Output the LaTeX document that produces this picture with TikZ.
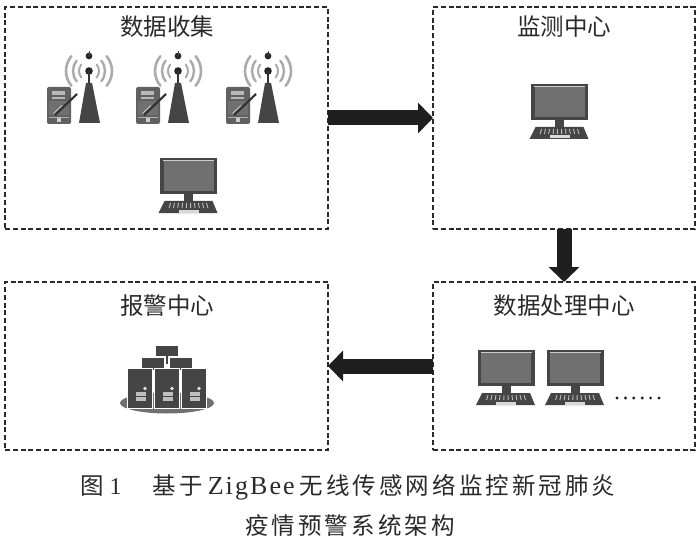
\documentclass[tikz,border=0pt]{standalone}
\usepackage{fontspec}
\usetikzlibrary{arrows.meta}
\newfontfamily\cjk{Noto Sans CJK SC}
\newfontfamily\capcjk[LetterSpace=13]{Noto Sans CJK SC}
\newfontfamily\capla[LetterSpace=8]{Liberation Serif}
\definecolor{ink}{HTML}{2A2A2A}
\definecolor{icon}{HTML}{454545}
\definecolor{mid}{HTML}{707070}
\definecolor{wave}{HTML}{ABABAB}
\tikzset{
  x=1pt,y=-1pt,
  panel/.style={draw=ink,dashed,line width=1.2pt,dash pattern=on 5pt off 2.8pt,inner sep=0,outer sep=0,anchor=north west},
  title/.style={font=\cjk\fontsize{23.5}{26}\selectfont,text=ink,inner sep=0},
  flow/.style={draw=black!88,line width=15pt,-{Triangle[length=15pt,width=30pt]}},
  computer/.pic={
    \fill[icon] (-28.5,0) rectangle (28.5,36);
    \fill[mid] (-25,3) rectangle (25,33);
    \draw[white!80!black,line width=.8pt] (-25.5,2.5) -- (25.5,2.5);
    \fill[icon] (-4.5,36) rectangle (4.5,43);
    \fill[icon] (-24,43) -- (24,43) -- (29,55) -- (-30,55) -- cycle;
    \foreach \k in {-18,-14,...,18}{\draw[white!75!black,line width=.9pt] (\k,45) -- ({\k*1.08},50);}
    \fill[white!85!black] (-10,51.5) rectangle (10,54.5);
  },
  tower/.pic={
    \foreach \r/\w in {10/2,16/2.4,23/2.6}{
      \draw[wave,line width=\w pt,line cap=round] (-40:\r) arc[start angle=-40,end angle=40,radius=\r];
      \draw[wave,line width=\w pt,line cap=round] (140:\r) arc[start angle=140,end angle=220,radius=\r];
    }
    \fill[icon!60!black] (0,-15) circle[radius=3.4];
    \draw[icon,line width=.8pt] (0,-19.5) -- (0,-15);
    \fill[black!85] (0,0) circle[radius=3.8];
    \draw[black!80,line width=2.4pt] (0,0) -- (0,13);
    \fill[icon] (-3,12) -- (3,12) -- (11,52) -- (-10,52) -- cycle;
  },
  handheld/.pic={
    \fill[icon!85!white,rounded corners=2pt] (0,0) rectangle (24,37);
    \fill[white!72!black] (5,4.5) rectangle (18,8.5);
    \fill[white!72!black] (5,10) rectangle (18,12.5);
    \fill[mid] (2,14) rectangle (22,28);
    \draw[black!80,line width=2.2pt] (8,28) -- (30,7);
    \draw[white!85!black,line width=.7pt] (6.5,26.5) -- (15,18.5);
    \draw[white!70!black,line width=.7pt] (2,30) -- (22,30);
    \fill[white!80!black] (10,31.5) rectangle (14,35);
  },
  tower unit/.pic={
    \pic at (42,-16) {tower};
    \pic at (0,0) {handheld};
  },
  rack/.pic={
    \fill[white] (-1,-1) rectangle (25,40);
    \fill[icon] (0,0) rectangle (24,39);
    \fill[white!75!black] (8,23) rectangle (18,32);
    \draw[icon,line width=.6pt] (8,27.5) -- (18,27.5);
    \fill[white!90!black] (17,20) circle[radius=1.8];
  },
  captext/.style={inner sep=0,text=ink,anchor=west}
}
\begin{document}
\begin{tikzpicture}
\useasboundingbox (0,0) rectangle (700,553);
\fill[white] (0,0) rectangle (700,553);
\node[panel,minimum width=323pt,minimum height=222pt] (a) at (5,7) {};
\node[panel,minimum width=262pt,minimum height=222pt] (b) at (433,7) {};
\node[panel,minimum width=262pt,minimum height=168pt] (c) at (433,282) {};
\node[panel,minimum width=323pt,minimum height=168pt] (d) at (5,282) {};
\node[title] (ta) at (167,27) {数据收集};
\node[title] (tb) at (564,27) {监测中心};
\node[title] (tc) at (564,306) {数据处理中心};
\node[title] (td) at (167,306) {报警中心};
\foreach \p in {47,136,226}{\pic at (\p,87) {tower unit};}
\pic at (188.5,158) {computer};
\pic at (559.5,84) {computer};
\pic at (506,350) {computer};
\pic at (575,350) {computer};
\foreach \p in {617,625.4,...,660}{\fill[black!88] (\p,398) circle[radius=1.6];}
% server cluster
\fill[mid] (167,403) ellipse[x radius=47,y radius=10.5];
\draw[icon,line width=1.4pt] (167,352) -- (167,364) (153,364) -- (153,370) (181,364) -- (181,370);
\fill[icon] (156,346) rectangle (178,356);
\fill[icon] (142,358) rectangle (164,368);
\fill[icon] (170,358) rectangle (192,368);
\pic at (128,368.5) {rack};
\pic at (155,368.5) {rack};
\pic at (182,368.5) {rack};
\draw[flow] (a) -- (b);
\draw[flow] (b) -- (c);
\draw[flow] (c) -- (d);
\node[captext] (cap1) at (80,487) {\capcjk\fontsize{23.5}{26}\selectfont 图\hspace{6pt}{\capla\fontsize{24}{26}\selectfont 1}\hspace{31pt}基于\hspace{5pt}{\capla\fontsize{26}{26}\selectfont ZigBee}\hspace{5pt}无线传感网络监控新冠肺炎};
\node[captext,anchor=center] (cap2) at (350,526) {\capcjk\fontsize{23.5}{26}\selectfont 疫情预警系统架构};
\end{tikzpicture}
\end{document}
